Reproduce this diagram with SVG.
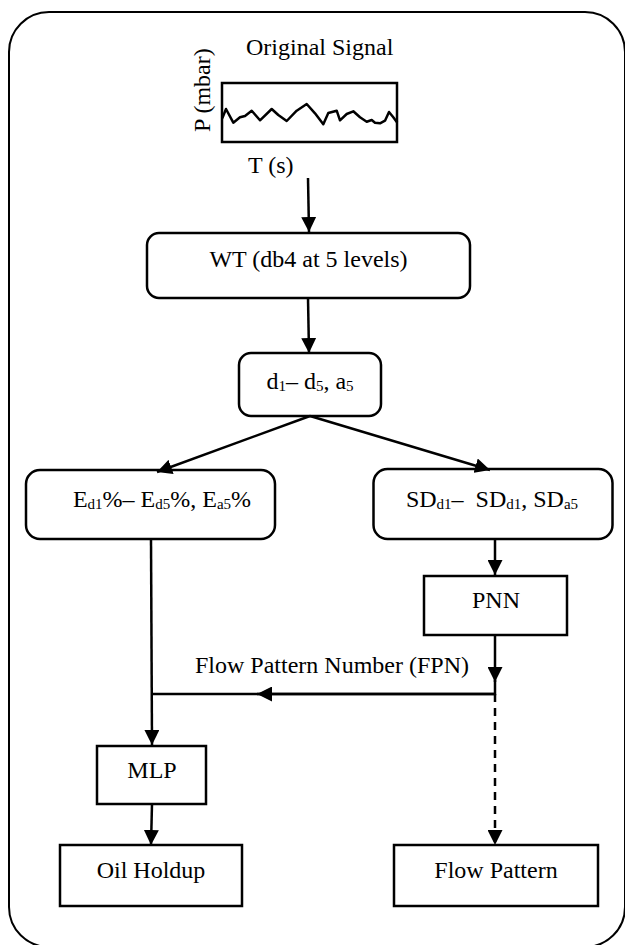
<svg xmlns="http://www.w3.org/2000/svg" width="625" height="945" viewBox="0 0 625 945">
<style>
.box{fill:#fff;stroke:#000;stroke-width:2.5}
text{font-family:'Liberation Serif','Times New Roman',Times,'DejaVu Serif',serif;font-size:24px;fill:#000}
.s{font-size:15px}
.c{fill:none;stroke:#000;stroke-width:2.5}
.m{text-anchor:middle}
</style>
<defs>
<marker id="ah" markerUnits="userSpaceOnUse" markerWidth="15" markerHeight="15" refX="15" refY="7.5" orient="auto">
<path d="M0,0 L15,7.5 L0,15 z" fill="#000"/>
</marker>
</defs>
<rect x="9" y="12" width="616" height="935" rx="40" ry="40" fill="#fff" stroke="#000" stroke-width="2"/>

<g id="signal" font-family="Liberation Serif, serif">
<text x="246" y="55">Original Signal</text>
<rect class="box" x="222" y="83" width="175" height="59"/>
<polyline fill="none" stroke="#000" stroke-width="2.5" stroke-linejoin="round" points="222.3,118.3 226,109 233.3,122.7 240,117.3 245,116 251.7,110.7 260,120.3 271.7,109 278.3,115 286.7,121 296.7,110.7 306.7,104 315,113.3 323.3,124.3 328.3,113 336.7,110.7 340,120.3 346.7,114 353.3,111.3 360,117.3 366.7,121.7 371.7,120 375,122.7 380,123.3 385,120.7 389,112 393.3,117.3 397.3,122.7"/>
<text transform="translate(210,132) rotate(-90)">P (mbar)</text>
<text x="248" y="173">T (s)</text>
</g>

<g id="wt" font-family="Liberation Serif, serif">
<rect class="box" x="147" y="233" width="323" height="65" rx="12"/>
<text class="m" x="308.5" y="267">WT (db4 at 5 levels)</text>
</g>

<g id="dcoef" font-family="Liberation Serif, serif">
<rect class="box" x="239" y="353" width="142" height="63" rx="12"/>
<text class="m" x="310" y="389">d<tspan class="s" dy="2">1</tspan><tspan dy="-2">– d</tspan><tspan class="s" dy="2">5</tspan><tspan dy="-2">, a</tspan><tspan class="s" dy="2">5</tspan></text>
</g>

<g id="energy" font-family="Liberation Serif, serif">
<rect class="box" x="26" y="470" width="249" height="69" rx="14"/>
<text class="m" x="162" y="507">E<tspan class="s" dy="2">d1</tspan><tspan dy="-2">%– E</tspan><tspan class="s" dy="2">d5</tspan><tspan dy="-2">%, E</tspan><tspan class="s" dy="2">a5</tspan><tspan dy="-2">%</tspan></text>
</g>

<g id="sd" font-family="Liberation Serif, serif">
<rect class="box" x="373.5" y="469" width="239" height="70" rx="14"/>
<text class="m" x="492" y="507" xml:space="preserve">SD<tspan class="s" dy="2">d1</tspan><tspan dy="-2">–  SD</tspan><tspan class="s" dy="2">d1</tspan><tspan dy="-2">, SD</tspan><tspan class="s" dy="2">a5</tspan></text>
</g>

<g id="pnn" font-family="Liberation Serif, serif">
<rect class="box" x="424" y="576" width="143" height="59"/>
<text class="m" x="496" y="608">PNN</text>
</g>

<g id="mlp" font-family="Liberation Serif, serif">
<rect class="box" x="97" y="746" width="109" height="58"/>
<text class="m" x="152" y="778">MLP</text>
</g>

<g id="oil" font-family="Liberation Serif, serif">
<rect class="box" x="60" y="845" width="182" height="61"/>
<text class="m" x="151" y="878">Oil Holdup</text>
</g>

<g id="flowpattern" font-family="Liberation Serif, serif">
<rect class="box" x="394" y="845" width="204" height="61"/>
<text class="m" x="496" y="878">Flow Pattern</text>
</g>

<g id="connectors" font-family="Liberation Serif, serif">
<path class="c" d="M308,178 L309,232" marker-end="url(#ah)"/>
<path class="c" d="M308,298 L309,353" marker-end="url(#ah)"/>
<path class="c" d="M310,416 L157,472" marker-end="url(#ah)"/>
<path class="c" d="M310,416 L490,470" marker-end="url(#ah)"/>
<path class="c" d="M151,539 L152,745" marker-end="url(#ah)"/>
<path class="c" d="M495,539 L495,575" marker-end="url(#ah)"/>
<path class="c" d="M495,635 L495,682" marker-end="url(#ah)"/>
<path class="c" d="M495,680 L495,694 L152,694"/>
<path class="c" d="M495,694 L257,694" marker-end="url(#ah)"/>
<path class="c" d="M495,694 L495,845" stroke-dasharray="8,6" marker-end="url(#ah)"/>
<path class="c" d="M152,804 L151,845" marker-end="url(#ah)"/>
<text x="195" y="673">Flow Pattern Number (FPN)</text>
</g>
</svg>
